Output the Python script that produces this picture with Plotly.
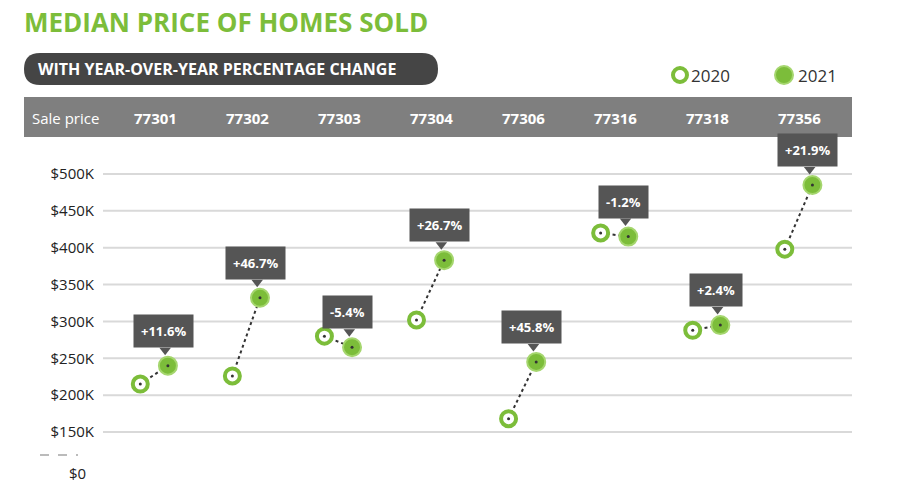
import plotly.graph_objects as go

zips = ["77301","77302","77303","77304","77306","77316","77318","77356"]
p2020 = [215, 226, 280, 302, 168, 420, 288, 398]
p2021 = [240, 332, 265, 383, 245, 415, 295, 485]
changes = ["+11.6%","+46.7%","-5.4%","+26.7%","+45.8%","-1.2%","+2.4%","+21.9%"]
ytick_vals = [150,200,250,300,350,400,450,500]
ytick_text = ["$150K","$200K","$250K","$300K","$350K","$400K","$450K","$500K"]

GREEN = "#7cbd3a"
OFF = 8
L, R, T, B = 103-OFF, 48+OFF, 140-OFF, 10+OFF
W, H = 900, 497
pw, ph = W-L-R, H-T-B
def px(x): return (x-OFF-L)/pw
def py(y): return (H-B-(y-OFF))/ph

fig = go.Figure()
x20 = [i-0.16 for i in range(len(zips))]
x21 = [i+0.14 for i in range(len(zips))]
for i in range(len(zips)):
    fig.add_trace(go.Scatter(x=[x20[i], x21[i]], y=[p2020[i], p2021[i]], mode="lines",
        line=dict(color="#333", width=2, dash="dot"), hoverinfo="skip", showlegend=False))
fig.add_trace(go.Scatter(x=x20, y=p2020, mode="markers", showlegend=False,
    marker=dict(size=15, color="white", line=dict(color=GREEN, width=4))))
fig.add_trace(go.Scatter(x=x21, y=p2021, mode="markers", showlegend=False,
    marker=dict(size=18, color=GREEN, line=dict(color="#a5d66e", width=2))))
fig.add_trace(go.Scatter(x=x20+x21, y=p2020+p2021, mode="markers", showlegend=False,
    marker=dict(size=3, color="#333")))
fig.add_trace(go.Scatter(x=[x-0.03 for x in x21], y=[v+21 for v in p2021], mode="markers",
    showlegend=False, marker=dict(symbol="triangle-down", size=10, color="#555")))

shapes = []
for v in ytick_vals:
    shapes.append(dict(type="line", xref="paper", yref="y", x0=0, x1=1, y0=v, y1=v,
                       line=dict(color="#d9d9d9", width=2), layer="below"))
shapes.append(dict(type="line", xref="paper", yref="paper", x0=px(40), x1=px(78), y0=py(455), y1=py(455),
                   line=dict(color="#bbb", width=2, dash="dash")))
shapes.append(dict(type="rect", xref="paper", yref="paper", x0=px(24), x1=px(852), y0=py(137), y1=py(97),
                   fillcolor="#7f7f7f", line=dict(width=0)))
shapes.append(dict(type="path", xref="paper", yref="paper",
    path=f"M {px(40)} {py(53)} L {px(422)} {py(53)} Q {px(438)} {py(53)} {px(438)} {py(69)} Q {px(438)} {py(85)} {px(422)} {py(85)} L {px(40)} {py(85)} Q {px(24)} {py(85)} {px(24)} {py(69)} Q {px(24)} {py(53)} {px(40)} {py(53)} Z",
    fillcolor="#454545", line=dict(width=0)))
# legend circles
shapes.append(dict(type="circle", xref="paper", yref="paper", xsizemode="pixel", ysizemode="pixel",
    xanchor=px(680), yanchor=py(75), x0=-7, x1=7, y0=-7, y1=7, fillcolor="white", line=dict(color=GREEN, width=4)))
shapes.append(dict(type="circle", xref="paper", yref="paper", xsizemode="pixel", ysizemode="pixel",
    xanchor=px(784), yanchor=py(75), x0=-9, x1=9, y0=-9, y1=9, fillcolor=GREEN, line=dict(color="#a5d66e", width=2)))

ann = []
ann.append(dict(xref="paper", yref="paper", x=px(22), y=py(22), xanchor="left", yanchor="middle",
    text="<b>MEDIAN PRICE OF HOMES SOLD</b>", showarrow=False,
    font=dict(family="Open Sans", size=26, color=GREEN)))
ann.append(dict(xref="paper", yref="paper", x=px(36), y=py(69), xanchor="left", yanchor="middle",
    text="<b>WITH YEAR-OVER-YEAR PERCENTAGE CHANGE</b>", showarrow=False,
    font=dict(family="Open Sans", size=16, color="white")))
ann.append(dict(xref="paper", yref="paper", x=px(30), y=py(118), xanchor="left", yanchor="middle",
    text="Sale price", showarrow=False, font=dict(family="Open Sans", size=15, color="white")))
for i, z in enumerate(zips):
    ann.append(dict(xref="x", yref="paper", x=i, y=py(118), xanchor="center", yanchor="middle",
        text=f"<b>{z}</b>", showarrow=False, font=dict(family="Open Sans", size=15, color="white")))
    ann.append(dict(xref="x", yref="y", x=x21[i]-0.05, y=p2021[i], yshift=35, xanchor="center", yanchor="middle",
        text=f"<b>{changes[i]}</b>", showarrow=False, bgcolor="#555", borderpad=7,
        font=dict(family="Open Sans", size=13, color="white")))
ann.append(dict(xref="paper", yref="paper", x=px(689), y=py(75), xanchor="left", yanchor="middle",
    text="2020", showarrow=False, font=dict(family="Open Sans", size=17, color="#333")))
ann.append(dict(xref="paper", yref="paper", x=px(796), y=py(75), xanchor="left", yanchor="middle",
    text="2021", showarrow=False, font=dict(family="Open Sans", size=17, color="#333")))
ann.append(dict(xref="paper", yref="y", x=-0.02, y=95, xanchor="right", yanchor="middle",
    text="$0", showarrow=False, font=dict(family="Open Sans", size=15, color="#222")))

fig.update_layout(
    width=W, height=H, margin=dict(l=L, r=R, t=T, b=B),
    paper_bgcolor="white", plot_bgcolor="white",
    xaxis=dict(range=[-0.565, 7.57], visible=False, fixedrange=True),
    yaxis=dict(range=[75.4, 546], tickvals=ytick_vals, ticktext=ytick_text, showgrid=False,
               zeroline=False, ticks="", ticklabelstandoff=8,
               tickfont=dict(family="Open Sans", size=15, color="#222")),
    shapes=shapes, annotations=ann,
)
fig.update_traces(cliponaxis=False)
fig.write_html("out.html")
